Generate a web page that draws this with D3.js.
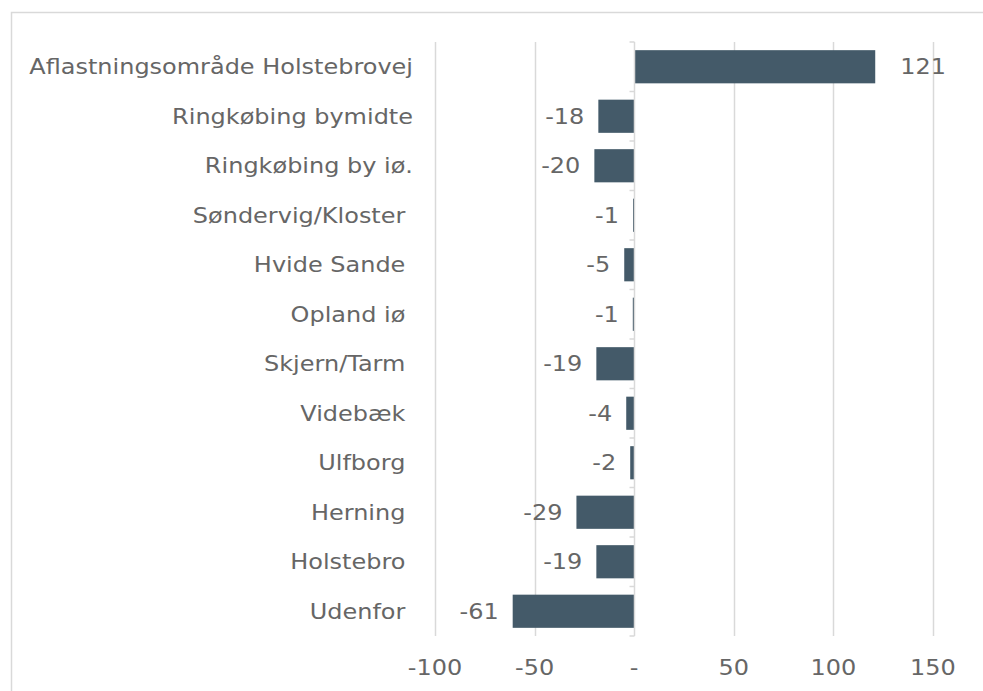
<!doctype html>
<html>
<head>
<meta charset="utf-8">
<title></title>
<style>
body{ margin:0; background:#fff; }
text{ font-family:"DejaVu Sans", Verdana, sans-serif; fill:#666; white-space:pre; font-size:22px; }
</style>
</head>
<body>
<svg></svg>
<script src="https://cdn.jsdelivr.net/npm/d3@7"></script>
<script>
var categories = ["Aflastningsområde Holstebrovej","Ringkøbing bymidte","Ringkøbing by iø.","Søndervig/Kloster ","Hvide Sande ","Opland iø ","Skjern/Tarm ","Videbæk ","Ulfborg ","Herning ","Holstebro ","Udenfor "];
var values = [121,-18,-20,-0.6,-5,-0.7,-19,-4,-2,-29,-19,-61];
var valueLabels = ["121","-18","-20","-1","-5","-1","-19","-4","-2","-29","-19","-61"];
var ticks = [-100,-50,0,50,100,150];
var tickLabels = ["-100","-50","-","50","100","150"];

var width = 983, height = 691;
var sx = 1.09; // bredere skrift, som i originalen
var svg = d3.select('svg').attr('width',width).attr('height',height);

// ramme
svg.append('rect')
   .attr('x',11.5).attr('y',12.5)
   .attr('width',width+10).attr('height',height+10)
   .attr('fill','none').attr('stroke','#d9d9d9').attr('stroke-width',1.5);

var x = d3.scaleLinear().domain([-100,150]).range([435,933]);
var y = d3.scaleBand().domain(categories).range([42,636]).paddingInner(0.33).paddingOuter(0.165);
var g = svg.append('g');

function place(px,py){ return 'translate('+px+','+py+') scale('+sx+',1)'; }

// gitterlinjer
g.selectAll('line.grid')
   .data(ticks.filter(function(d){ return d !== 0; }))
   .enter().append('line')
   .attr('x1',function(d){ return Math.round(x(d))+0.5; })
   .attr('x2',function(d){ return Math.round(x(d))+0.5; })
   .attr('y1',42).attr('y2',636)
   .attr('stroke','#d9d9d9').attr('stroke-width',1.5);

// søjler
g.selectAll('rect.bar')
   .data(values)
   .enter().append('rect')
   .attr('x',function(d){ return x(Math.min(0,d)); })
   .attr('width',function(d){ return Math.abs(x(d)-x(0)); })
   .attr('y',function(d,i){ return y(categories[i]); })
   .attr('height',y.bandwidth())
   .attr('fill','#445a69');

// nul-akse med små tick
var x0 = Math.round(x(0))+0.5;
g.append('line').attr('x1',x0).attr('x2',x0).attr('y1',42).attr('y2',636)
   .attr('stroke','#d9d9d9').attr('stroke-width',1.5);
var step = y.step();
g.selectAll('line.tk')
   .data(d3.range(categories.length+1))
   .enter().append('line')
   .attr('x1',x0-5).attr('x2',x0)
   .attr('y1',function(i){ return 42+i*step; })
   .attr('y2',function(i){ return 42+i*step; })
   .attr('stroke','#d9d9d9').attr('stroke-width',1.5);

// kategorinavne
g.selectAll('text.cat')
   .data(categories)
   .enter().append('text')
   .attr('transform',function(d){ return place(413, y(d)+y.bandwidth()/2); })
   .attr('dy','0.35em')
   .attr('text-anchor','end')
   .text(function(d){ return d; });

// værdier
g.selectAll('text.val')
   .data(values)
   .enter().append('text')
   .attr('transform',function(d,i){ return place(d > 0 ? x(d)+25 : x(d)-14, y(categories[i])+y.bandwidth()/2); })
   .attr('dy','0.35em')
   .attr('text-anchor',function(d){ return d > 0 ? 'start' : 'end'; })
   .text(function(d,i){ return valueLabels[i]; });

// x-akse etiketter
g.selectAll('text.tick')
   .data(ticks)
   .enter().append('text')
   .attr('transform',function(d){ return place(x(d), 667); })
   .attr('dy','0.35em')
   .attr('text-anchor','middle')
   .text(function(d,i){ return tickLabels[i]; });
</script>
</body>
</html>
